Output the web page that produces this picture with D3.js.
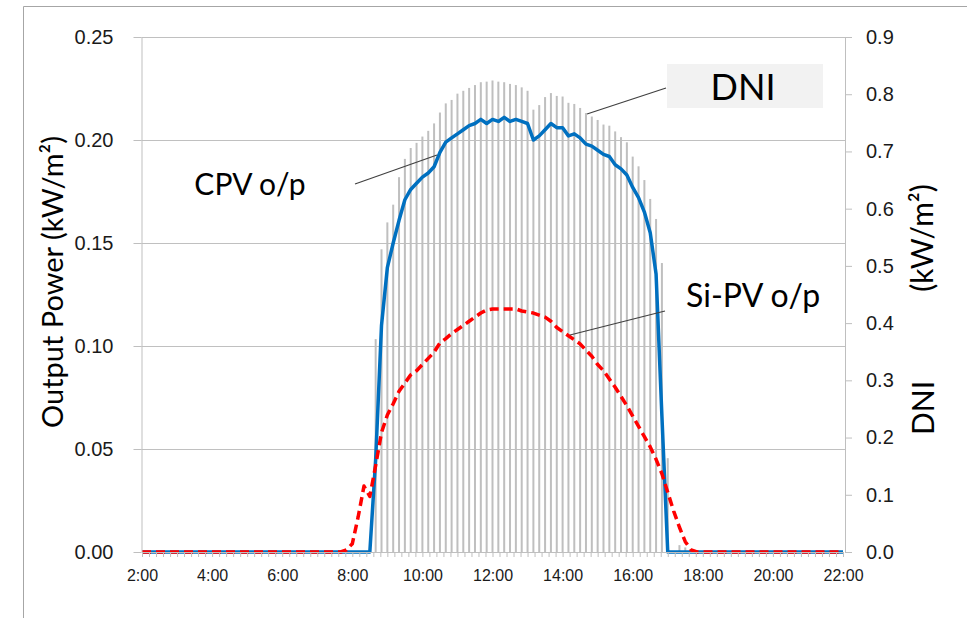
<!DOCTYPE html>
<html>
<head>
<meta charset="utf-8">
<script src="https://cdn.jsdelivr.net/npm/d3@7"></script>
<style>
  body { margin: 0; background: #fff; }
  svg { display: block; font-family: Lato, "Open Sans", sans-serif; }
</style>
</head>
<body>
<svg id="chart" width="967" height="618"></svg>
<script>
// Readings every 10 minutes from 2:00 to 22:00 (121 points)
const dni = [
  0, 0, 0, 0, 0, 0, 0, 0, 0, 0, 0, 0,                 // 2:00 - 3:50
  0, 0, 0, 0, 0, 0, 0, 0, 0, 0, 0, 0,                 // 4:00 - 5:50
  0, 0, 0, 0, 0, 0, 0, 0, 0, 0, 0, 0,                 // 6:00 - 7:50
  0, 0, 0, 0, 0.372, 0.529, 0.576, 0.607, 0.655, 0.687, 0.706, 0.715,   // 8:00 - 9:50
  0.726, 0.736, 0.749, 0.768, 0.784, 0.790, 0.801, 0.806, 0.811, 0.816, 0.821, 0.822, // 10:00 - 11:50
  0.824, 0.822, 0.821, 0.818, 0.816, 0.812, 0.806, 0.773, 0.781, 0.795, 0.802, 0.797, // 12:00 - 13:50
  0.796, 0.785, 0.783, 0.776, 0.767, 0.761, 0.755, 0.747, 0.745, 0.735, 0.725, 0.716, // 14:00 - 15:50
  0.691, 0.674, 0.650, 0.617, 0.582, 0.505, 0.164, 0, 0.012, 0.008, 0, 0,              // 16:00 - 17:50
  0, 0, 0, 0, 0, 0, 0, 0, 0, 0, 0, 0,                 // 18:00 - 19:50
  0, 0, 0, 0, 0, 0, 0, 0, 0, 0, 0, 0,                 // 20:00 - 21:50
  0                                                   // 22:00
];

const cpv = [
  0, 0, 0, 0, 0, 0, 0, 0, 0, 0, 0, 0,
  0, 0, 0, 0, 0, 0, 0, 0, 0, 0, 0, 0,
  0, 0, 0, 0, 0, 0, 0, 0, 0, 0, 0, 0,
  0, 0, 0, 0, 0.045, 0.110, 0.138, 0.150, 0.161, 0.171, 0.176, 0.179,
  0.182, 0.184, 0.187, 0.194, 0.199, 0.201, 0.203, 0.205, 0.207, 0.208, 0.210, 0.208,
  0.210, 0.209, 0.211, 0.209, 0.210, 0.209, 0.208, 0.200, 0.202, 0.205, 0.208, 0.206,
  0.206, 0.202, 0.203, 0.201, 0.198, 0.197, 0.195, 0.193, 0.192, 0.188, 0.186, 0.183,
  0.177, 0.172, 0.165, 0.155, 0.135, 0.066, 0, 0, 0, 0, 0, 0,
  0, 0, 0, 0, 0, 0, 0, 0, 0, 0, 0, 0,
  0, 0, 0, 0, 0, 0, 0, 0, 0, 0, 0, 0,
  0
];

const sipv = [
  0, 0, 0, 0, 0, 0, 0, 0, 0, 0, 0, 0,
  0, 0, 0, 0, 0, 0, 0, 0, 0, 0, 0, 0,
  0, 0, 0, 0, 0, 0, 0, 0, 0, 0, 0, 0.001,
  0.004, 0.017, 0.032, 0.027, 0.042, 0.058, 0.0665, 0.072, 0.078, 0.082, 0.086, 0.088,
  0.091, 0.094, 0.097, 0.1015, 0.1036, 0.106, 0.108, 0.110, 0.112, 0.114, 0.116, 0.1175,
  0.118, 0.118, 0.118, 0.118, 0.118, 0.117, 0.1165, 0.116, 0.115, 0.114, 0.112, 0.109,
  0.107, 0.105, 0.103, 0.101, 0.098, 0.095, 0.091, 0.088, 0.084, 0.080, 0.0755, 0.071,
  0.066, 0.061, 0.056, 0.051, 0.045, 0.038, 0.029, 0.020, 0.012, 0.005, 0.001, 0,
  0, 0, 0, 0, 0, 0, 0, 0, 0, 0, 0, 0,
  0, 0, 0, 0, 0, 0, 0, 0, 0, 0, 0, 0,
  0
];

const xTickLabels = ["2:00", "4:00", "6:00", "8:00", "10:00", "12:00", "14:00", "16:00", "18:00", "20:00", "22:00"];
const powerTicks = [0, 0.05, 0.10, 0.15, 0.20, 0.25];
const dniTicks = [0, 0.1, 0.2, 0.3, 0.4, 0.5, 0.6, 0.7, 0.8, 0.9];

const parseTime = d3.timeParse("%H:%M");
const start = parseTime("2:00"), end = parseTime("22:00");
// one category every 10 minutes
const times = d3.timeMinute.every(10).range(start, d3.timeMinute.offset(end, 1));

const svg = d3.select("#chart");
const plotTop = 37, plotBottom = 552, plotLeft = 141.5, plotRight = 845;

const x = d3.scaleTime().domain([start, end]).range([142, 843]);
const yPow = d3.scaleLinear().domain([0, 0.25]).range([plotBottom, plotTop]);
const yDni = d3.scaleLinear().domain([0, 0.9]).range([plotBottom, plotTop]);

// outer frame (left and top edges only visible)
svg.append("path")
    .attr("d", "M23.5,618V6.5H967")
    .attr("fill", "none")
    .attr("stroke", "#a6a6a6");

// Gridlines
svg.append("g")
    .selectAll("line")
    .data(powerTicks.filter(d => d > 0))
  .enter().append("line")
    .attr("x1", plotLeft).attr("x2", plotRight)
    .attr("y1", d => Math.round(yPow(d)) + 0.5)
    .attr("y2", d => Math.round(yPow(d)) + 0.5)
    .attr("stroke", "#c0c0c0");

// DNI bars
svg.append("g")
    .selectAll("rect")
    .data(dni.map((v, i) => ({t: times[i], v})).filter(d => d.v > 0))
  .enter().append("rect")
    .attr("x", d => x(d.t) - 1)
    .attr("width", 2)
    .attr("y", d => yDni(d.v))
    .attr("height", d => plotBottom - yDni(d.v))
    .attr("fill", "#bfbfbf");

// Lines
const powerLine = d3.line().x((d, i) => x(times[i])).y(d => yPow(d));
svg.append("path")
    .datum(cpv)
    .attr("d", powerLine)
    .attr("fill", "none")
    .attr("stroke", "#0070c0")
    .attr("stroke-width", 3.5)
    .attr("stroke-linejoin", "round");

svg.append("path")
    .datum(sipv)
    .attr("d", powerLine)
    .attr("fill", "none")
    .attr("stroke", "#ff0000")
    .attr("stroke-width", 3.5)
    .attr("stroke-dasharray", "9,5")
    .attr("stroke-linejoin", "round");

// Axes
const leftAxis = svg.append("g")
    .attr("transform", `translate(${plotLeft},0)`)
    .call(d3.axisLeft(yPow).tickValues(powerTicks).tickFormat(d3.format(".2f"))
        .tickSize(8).tickSizeOuter(0).tickPadding(20));

const rightAxis = svg.append("g")
    .attr("transform", `translate(${plotRight},0)`)
    .call(d3.axisRight(yDni).tickValues(dniTicks).tickFormat(d3.format(".1f"))
        .tickSize(7).tickSizeOuter(0).tickPadding(14));

const minorAxis = svg.append("g")
    .attr("transform", `translate(0,${plotBottom})`)
    .call(d3.axisBottom(x).ticks(d3.timeMinute.every(12)).tickFormat("")
        .tickSize(5).tickSizeOuter(0));

const labelAxis = svg.append("g")
    .attr("transform", `translate(0,${plotBottom})`)
    .call(d3.axisBottom(x).tickValues(xTickLabels.map(parseTime)).tickFormat(d3.timeFormat("%-H:%M"))
        .tickSize(0).tickPadding(18));
labelAxis.select(".domain").remove();

svg.selectAll(".domain, .tick line").attr("stroke", "#bfbfbf");
leftAxis.selectAll("text").style("font-size", "20px").attr("fill", "#1a1a1a");
rightAxis.selectAll("text").style("font-size", "20px").attr("fill", "#1a1a1a");
labelAxis.selectAll("text").style("font-size", "16px").attr("fill", "#1a1a1a");

// Axis titles
svg.append("text")
    .attr("transform", "translate(63,282) rotate(-90)")
    .attr("text-anchor", "middle")
    .style("font-size", "29px")
    .text("Output Power (kW/m²)");

svg.append("text")
    .attr("transform", "translate(933,238) rotate(-90)")
    .attr("text-anchor", "middle")
    .style("font-size", "30px")
    .text("(kW/m²)");

svg.append("text")
    .attr("transform", "translate(934,408) rotate(-90)")
    .attr("text-anchor", "middle")
    .style("font-size", "30px")
    .text("DNI");

// Callouts
const callouts = svg.append("g").attr("stroke", "#404040").attr("stroke-width", 1.2);
callouts.append("line").attr("x1", 355).attr("y1", 184).attr("x2", 437).attr("y2", 155);
callouts.append("line").attr("x1", 587).attr("y1", 114).attr("x2", 666).attr("y2", 88);
callouts.append("line").attr("x1", 570).attr("y1", 335).attr("x2", 665).attr("y2", 311);

svg.append("rect")
    .attr("x", 667).attr("y", 64).attr("width", 156).attr("height", 44)
    .attr("fill", "#f2f2f2");
svg.append("text")
    .attr("x", 743).attr("y", 100)
    .attr("text-anchor", "middle")
    .style("font-size", "36px")
    .text("DNI");

svg.append("text")
    .attr("x", 250).attr("y", 195)
    .attr("text-anchor", "middle")
    .style("font-size", "30px")
    .text("CPV o/p");

svg.append("text")
    .attr("x", 686).attr("y", 307)
    .style("font-size", "32px")
    .text("Si-PV o/p");
</script>
</body>
</html>
